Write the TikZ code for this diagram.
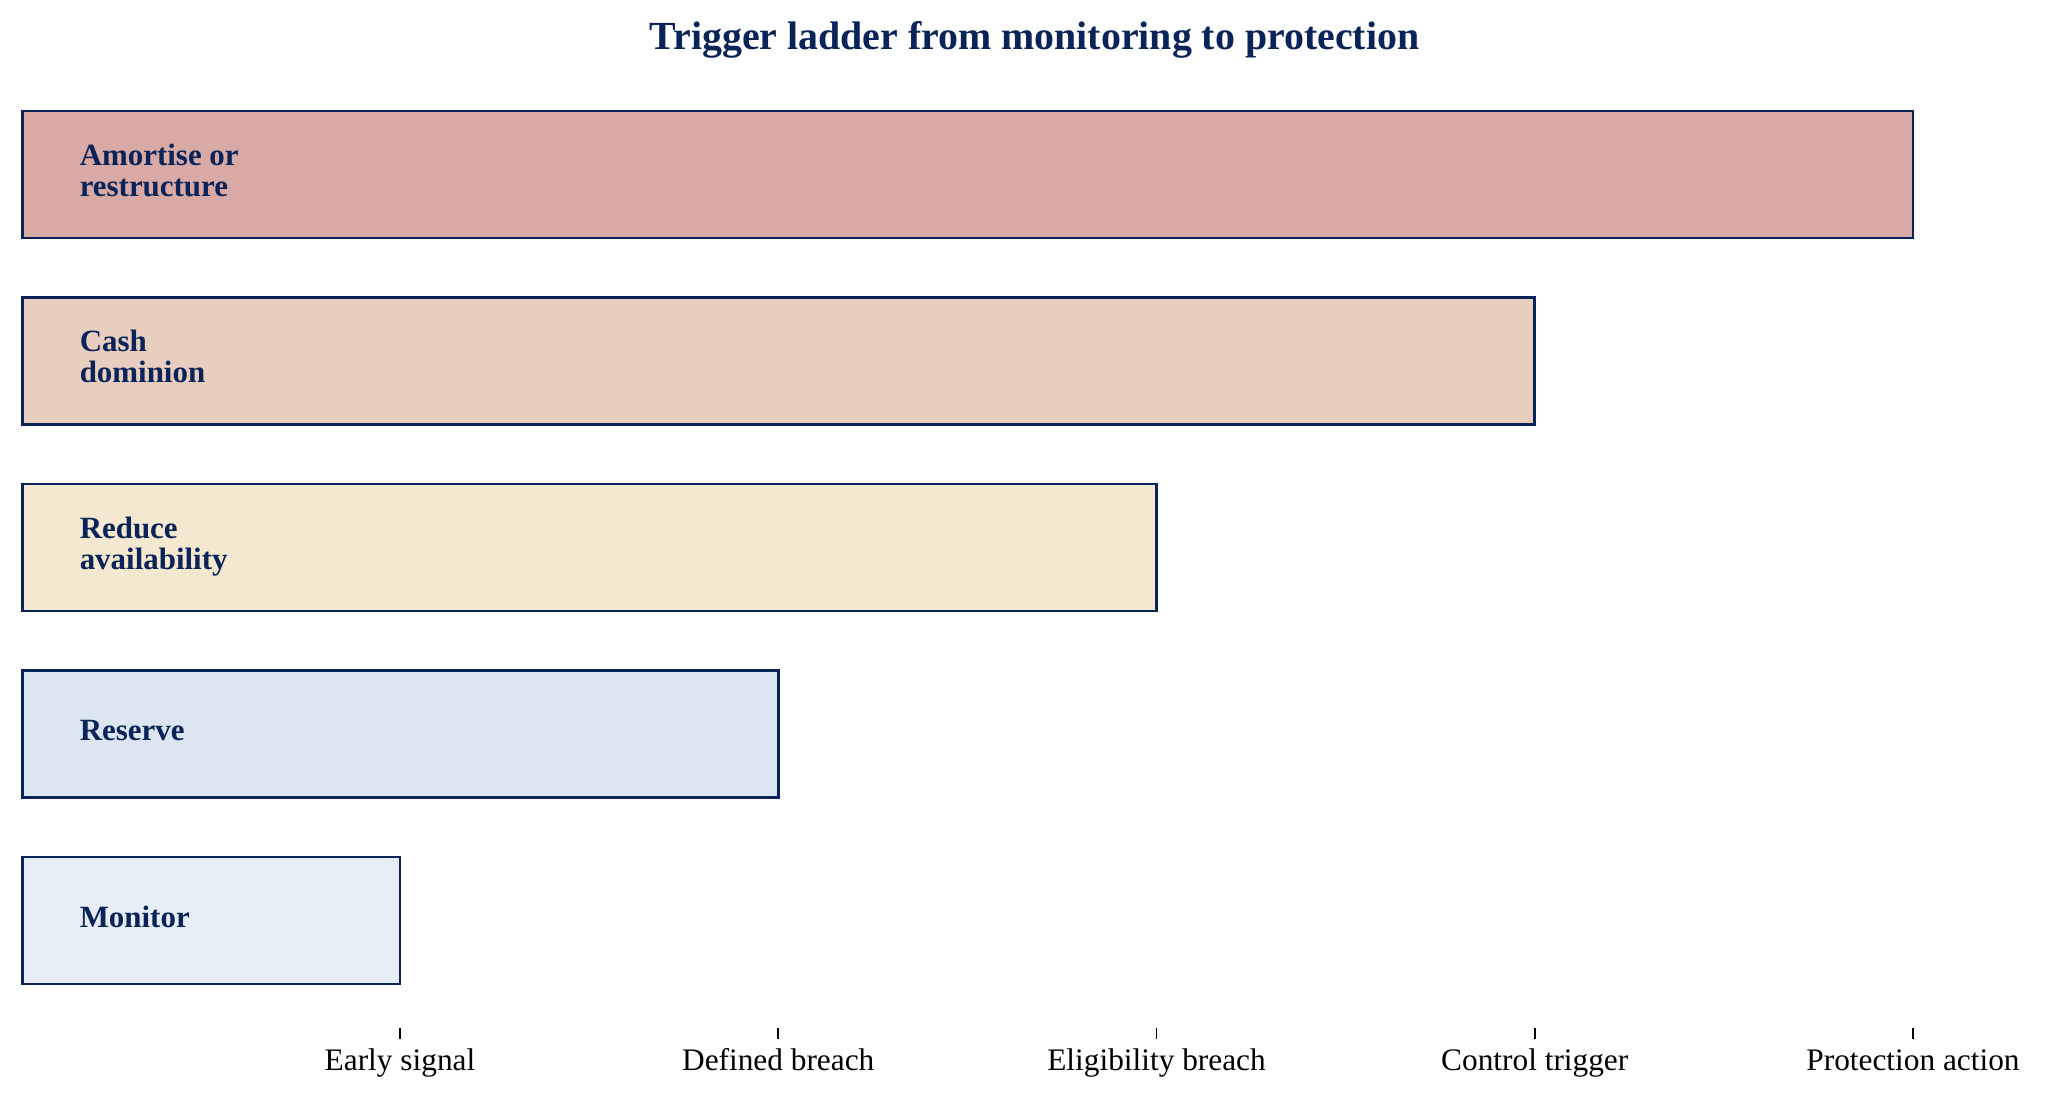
\documentclass[tikz,border=0pt]{standalone}
\usepackage{fontspec}
\setmainfont{Liberation Serif}
\definecolor{navy}{HTML}{0A2358}
\definecolor{cA}{HTML}{D9A9A5}
\definecolor{cB}{HTML}{E8CEBF}
\definecolor{cC}{HTML}{F4E9D0}
\definecolor{cD}{HTML}{DCE6F2}
\definecolor{cE}{HTML}{E7EDF6}
\tikzset{
  bar/.style={draw=navy, line width=1.9pt, anchor=north west, inner sep=0pt, outer sep=0pt,
    minimum height={127*0.75pt}},
  barlabel/.style={anchor=base west, inner sep=0pt, text=navy, align=left,
    font=\fontsize{23.2pt}{23.3pt}\selectfont\bfseries},
  ticklabel/.style={anchor=base, inner sep=0pt, text=black,
    font=\fontsize{23.5pt}{27pt}\selectfont},
  tickmark/.style={draw=black, line width=1.3pt},
  titlestyle/.style={anchor=base, inner sep=0pt, text=navy,
    font=\fontsize{29.9pt}{34pt}\selectfont\bfseries}
}
\begin{document}
\begin{tikzpicture}[x=0.75pt,y=-0.75pt]
\useasboundingbox (0,0) rectangle (2068,1100);
\node[titlestyle] (title) at (1034.5,49) {Trigger ladder from monitoring to protection};
% bars
\node[bar, fill=cA, minimum width={1890.5*0.75pt}] (amortise) at (22.5,111) {};
\node[bar, fill=cB, minimum width={1512.25*0.75pt}] (cash) at (22.5,297.5) {};
\node[bar, fill=cC, minimum width={1134*0.75pt}] (reduce) at (22.5,484) {};
\node[bar, fill=cD, minimum width={755.75*0.75pt}] (reserve) at (22.5,670.5) {};
\node[bar, fill=cE, minimum width={377.5*0.75pt}] (monitor) at (22.5,857) {};
% labels (base anchor = last line's baseline)
\node[barlabel] (lamortise) at (79.5,196.5) {Amortise or\\restructure};
\node[barlabel] (lcash) at (79.5,382.7) {Cash\\dominion};
\node[barlabel] (lreduce) at (79.5,569.5) {Reduce\\availability};
\node[barlabel] (lreserve) at (79.5,740.5) {Reserve};
\node[barlabel] (lmonitor) at (79.5,927.5) {Monitor};
% ticks
\foreach \i/\xx/\txt in {1/400/Early signal,2/778.25/Defined breach,3/1156.5/Eligibility breach,4/1534.75/Control trigger,5/1913/Protection action}{
  \coordinate (ta\i) at (\xx,1028);
  \coordinate (tb\i) at (\xx,1038.5);
  \draw[tickmark] (ta\i) -- (tb\i);
  \node[ticklabel] (tl\i) at (\xx,1070) {\txt};
}
\end{tikzpicture}
\end{document}
